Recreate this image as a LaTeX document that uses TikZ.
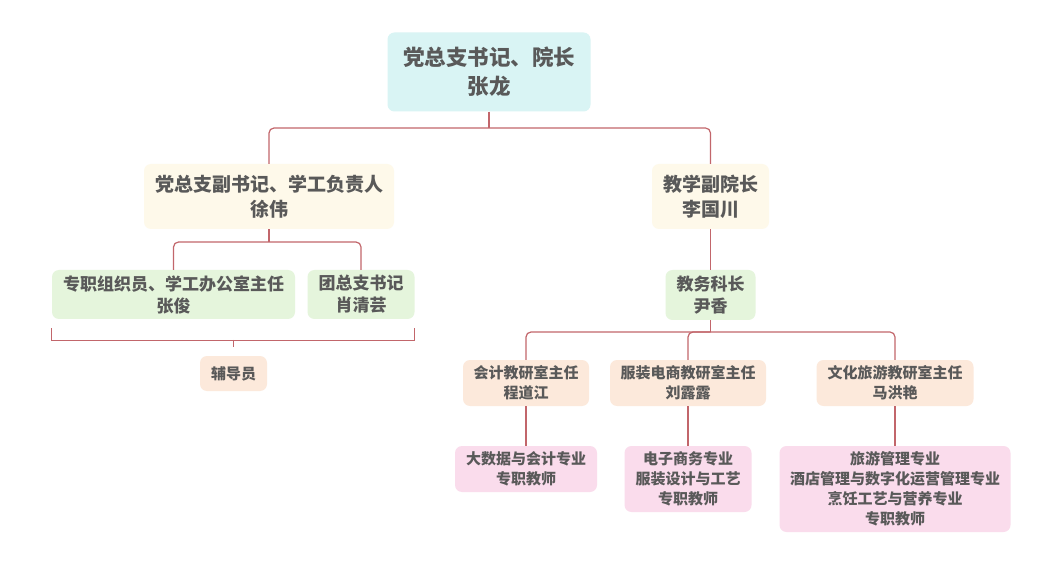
\documentclass[tikz,border=0pt]{standalone}
\usepackage{fontspec}
\setmainfont{Noto Sans CJK SC}
\usepackage{tikz}
\usetikzlibrary{calc}
\usetikzlibrary{positioning}

\definecolor{linkred}{HTML}{C2666B}
\definecolor{txtgray}{HTML}{595959}
\definecolor{fillcyan}{HTML}{D9F4F4}
\definecolor{fillcream}{HTML}{FEF9EA}
\definecolor{fillgreen}{HTML}{E5F5DC}
\definecolor{fillpeach}{HTML}{FCE9DB}
\definecolor{fillpink}{HTML}{FADCEC}

\tikzset{
  box/.style={rounded corners=7pt, inner sep=0pt, align=center, text=txtgray},
  size/.style 2 args={minimum width=#1, minimum height=#2},
  lvlA/.style={box, fill=fillcyan, font=\bfseries\fontsize{21.5}{29}\selectfont},
  lvlB/.style={box, fill=fillcream, font=\bfseries\fontsize{19}{25}\selectfont},
  lvlC/.style={box, fill=fillgreen, font=\bfseries\fontsize{17}{22}\selectfont},
  lvlD/.style={box, fill=fillpeach, font=\bfseries\fontsize{15}{20}\selectfont},
  lvlE/.style={box, fill=fillpink, font=\bfseries\fontsize{15}{20}\selectfont},
  link/.style={draw=linkred, line width=1.2pt, rounded corners=5pt},
}

\begin{document}
\begin{tikzpicture}[x=1pt, y=-1pt]
    \fill[white] (0,0) rectangle (1063,569);
    \useasboundingbox (0,0) rectangle (1063,569);

    % top
    \node[lvlA, size={203pt}{79pt}] (chief) at (489,72) {党总支书记、院长\\张龙};

    % second row
    \node[lvlB, size={250pt}{65pt}] (deputy) at (269,196.5) {党总支副书记、学工负责人\\徐伟};
    \node[lvlB, size={117pt}{65pt}] (vicedean) at (710.5,196.5) {教学副院长\\李国川};

    % left branch
    \node[lvlC, size={243pt}{49pt}] (organizer) at (173.5,294.5) {专职组织员、学工办公室主任\\张俊};
    \node[lvlC, size={107pt}{49pt}] (league) at (361,294.5) {团总支书记\\肖清芸};
    \node[lvlD, size={67pt}{35pt}] (tutor) at (233.5,373.5) {辅导员};

    % right branch
    \node[lvlC, size={90pt}{50pt}] (affairs) at (710.5,295) {教务科长\\尹香};
    \node[lvlD, size={126pt}{46pt}] (accHead) at (526,383) {会计教研室主任\\程道江};
    \node[lvlD, size={156pt}{46pt}] (fashHead) at (688,383) {服装电商教研室主任\\刘露露};
    \node[lvlD, size={157pt}{46pt}] (tourHead) at (895,383) {文化旅游教研室主任\\马洪艳};
    \node[lvlE, size={142pt}{46pt}] (accStaff) at (526,469) {大数据与会计专业\\专职教师};
    \node[lvlE, size={127pt}{66pt}] (fashStaff) at (688,479) {电子商务专业\\服装设计与工艺\\专职教师};
    \node[lvlE, size={231pt}{86pt}] (tourStaff) at (895,489) {旅游管理专业\\酒店管理与数字化运营管理专业\\烹饪工艺与营养专业\\专职教师};

    % connectors
    \coordinate (busA) at (489,128);
    \draw[link] (chief.south) -- (busA);
    \draw[link] (deputy.north) |- (busA) -| (vicedean.north);

    \coordinate (busB) at (269,242);
    \draw[link] (deputy.south) -- (busB);
    \draw[link] (organizer.north) |- (busB) -| (league.north);

    \draw[link] (vicedean.south) -- (affairs.north);

    \coordinate (busC) at (710.5,332);
    \draw[link] (affairs.south) -- (busC);
    \draw[link] (accHead.north) |- (busC) -| (tourHead.north);
    \draw[link] (busC) -| (fashHead.north);

    \foreach \up/\down in {accHead/accStaff, fashHead/fashStaff, tourHead/tourStaff}
        \draw[link] (\up.south) -- (\down.north);

    % bracket over the left pair
    \coordinate (brk) at (233.5,340);
    \draw[link, sharp corners] ($(organizer.south west)+(0,9)$) |- ($(league.south east)+(0,21)$) -- ($(league.south east)+(0,9)$);
    \draw[link] (brk) -- ++(0,7);
\end{tikzpicture}
\end{document}
